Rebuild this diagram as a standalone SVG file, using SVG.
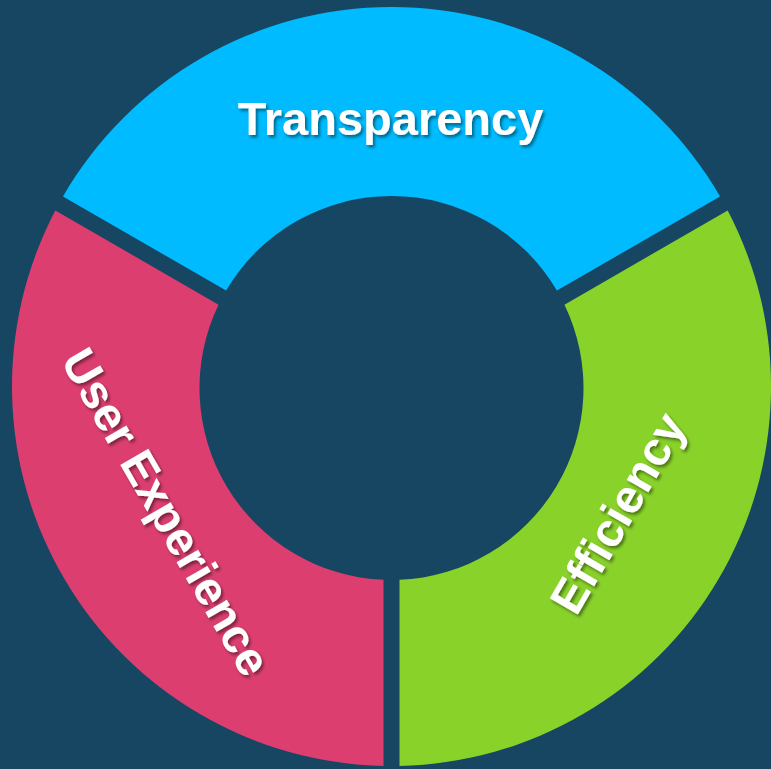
<svg xmlns="http://www.w3.org/2000/svg" width="771" height="769" viewBox="0 0 771 769">
  <defs>
    <filter id="shadow" x="-20%" y="-20%" width="140%" height="140%">
      <feDropShadow dx="2" dy="2.5" stdDeviation="1.5" flood-color="#000000" flood-opacity="0.45"/>
    </filter>
  </defs>
  <style>
    .label { font-family: "Liberation Sans", Arial, sans-serif; font-weight: bold; font-size: 47px; fill: #ffffff; text-anchor: middle; }
  </style>
  <rect width="771" height="769" fill="#174663"/>
  <g id="transparency">
    <path d="M 63 196.4 A 379.5 379.5 0 0 1 720 196.4 L 556.93 290.55 A 192 192 0 0 0 226.07 290.55 Z" fill="#00bbff"/>
    <g filter="url(#shadow)">
      <text class="label" x="390.5" y="135">Transparency</text>
    </g>
  </g>
  <g id="user-experience">
    <path d="M 55.31 210.44 L 218.53 304.67 A 192 192 0 0 0 383.5 579.83 L 383.5 765.92 A 379.5 379.5 0 0 1 55.31 210.44 Z" fill="#dc3f6f"/>
    <g filter="url(#shadow)">
      <text class="label" transform="translate(166 512) rotate(60)" x="0" y="16">User Experience</text>
    </g>
  </g>
  <g id="efficiency">
    <path d="M 727.69 210.44 A 379.5 379.5 0 0 1 399.5 765.92 L 399.5 579.83 A 192 192 0 0 0 564.47 304.67 Z" fill="#89d22a"/>
    <g filter="url(#shadow)">
      <text class="label" transform="translate(618 513) rotate(-60)" x="0" y="16">Efficiency</text>
    </g>
  </g>
  <g id="connectors"/>
</svg>
